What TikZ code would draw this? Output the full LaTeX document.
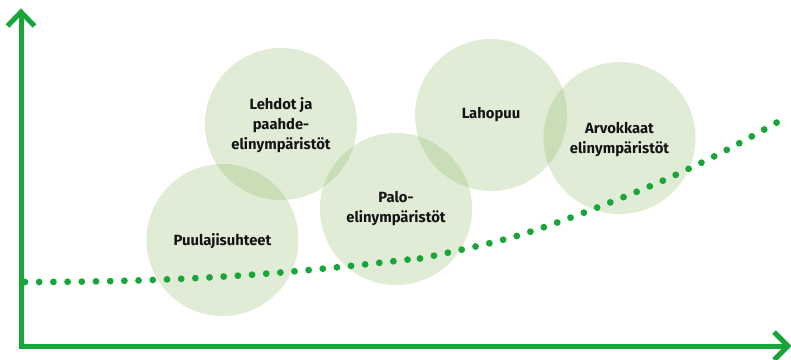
\documentclass[tikz,border=0pt]{standalone}
\usepackage{fontspec}
\setmainfont{Fira Sans}
\definecolor{axisgreen}{RGB}{24,166,58}
\definecolor{bubble}{RGB}{131,179,91}
\definecolor{txt}{RGB}{20,20,20}
\begin{document}
\begin{tikzpicture}[x=1pt,y=-1pt,
  bubblenode/.style={circle,minimum size=152pt,inner sep=0pt,fill=bubble,fill opacity=0.25,text opacity=1},
  lbl/.style={text=txt,font=\fontsize{14.8}{20}\selectfont\bfseries,align=center},
  axisline/.style={draw=axisgreen,line width=5pt},
  dotline/.style={draw=axisgreen,line width=6.8pt,line cap=round,dash pattern=on 0pt off 14.2pt}]
\useasboundingbox (0,0) rectangle (791,359);
% bubbles
\node[bubblenode] (b1) at (222.5,240) {};
\node[bubblenode] (b2) at (281,124) {};
\node[bubblenode] (b3) at (396,209) {};
\node[bubblenode] (b4) at (491,115) {};
\node[bubblenode] (b5) at (619.5,138) {};
% labels
\node[lbl] (t1) at (222.5,241) {Puulajisuhteet};
\node[lbl] (t2) at (281,125) {Lehdot ja\\paahde-\\elinympäristöt};
\node[lbl] (t3) at (396,208.5) {Palo-\\elinympäristöt};
\node[lbl] (t4) at (491,115) {Lahopuu};
\node[lbl] (t5) at (619.5,140) {Arvokkaat\\elinympäristöt};
% axes
\coordinate (o) at (21,346);
\coordinate (ytip) at (21,12);
\coordinate (yw1) at (7.5,26);
\coordinate (yw2) at (34.5,26);
\coordinate (xtip) at (788,346);
\coordinate (xw1) at (774,332);
\coordinate (xw2) at (774,360);
\draw[axisline,line cap=butt] (o) -- (21,13) ;
\draw[axisline] (18.5,346) -- (786,346);
\draw[axisline,line join=miter] (yw1) -- (ytip) -- (yw2);
\draw[axisline,line join=miter] (xw1) -- (xtip) -- (xw2);
% dotted curve
\coordinate (c0) at (25,282);
\coordinate (c1) at (413,259);
\coordinate (d0) at (420,258.5);
\coordinate (d1) at (783,119);
\draw[dotline] (c0) .. controls (200,282) and (300,272) .. (c1);
\draw[dotline] plot[smooth,tension=0.6] coordinates {(420,258.5) (520,235) (630,194.5) (711,158) (783,119)};
\end{tikzpicture}
\end{document}
